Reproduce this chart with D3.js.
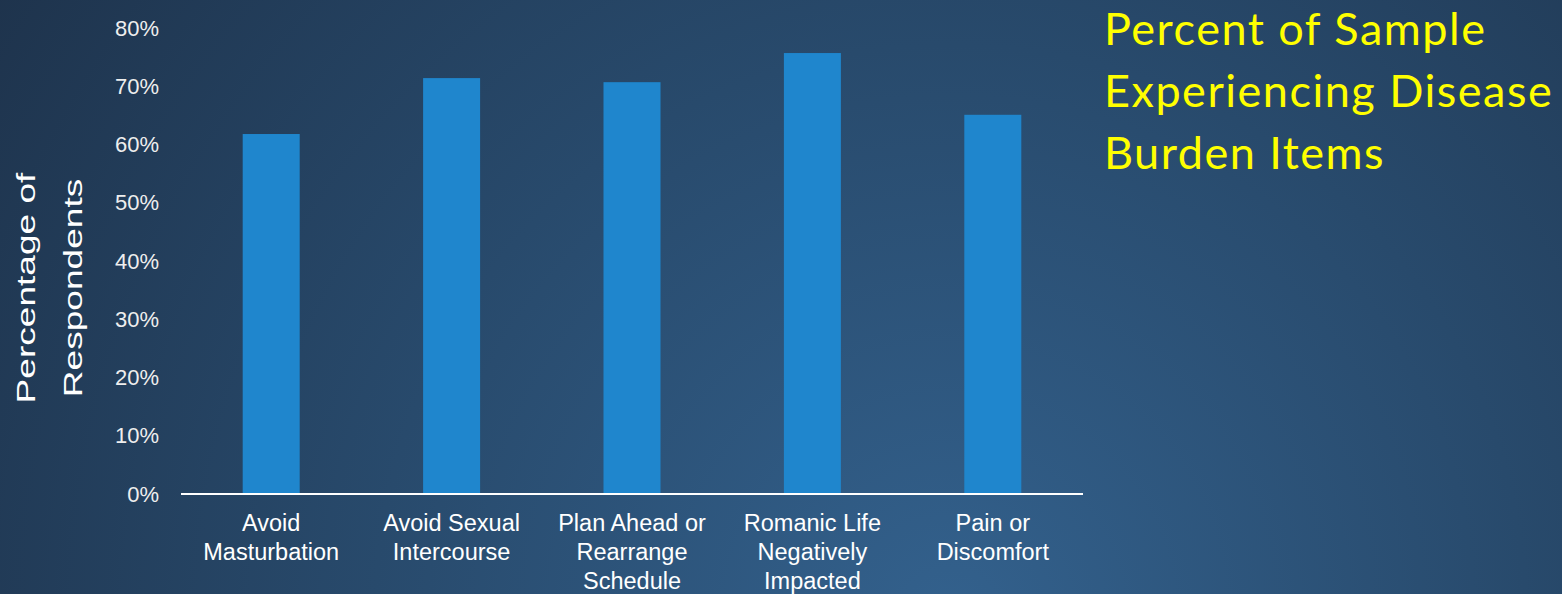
<!DOCTYPE html>
<html>
<head>
<meta charset="utf-8">
<script src="https://cdn.jsdelivr.net/npm/d3@7"></script>
<style>
  html, body { margin: 0; padding: 0; overflow: hidden; background: #1f3650; }
</style>
</head>
<body>
<div class="chart"></div>
<script>
const categories = [
  ["Avoid", "Masturbation"],
  ["Avoid Sexual", "Intercourse"],
  ["Plan Ahead or", "Rearrange", "Schedule"],
  ["Romanic Life", "Negatively", "Impacted"],
  ["Pain or", "Discomfort"]
];
const values = [61.8, 71.4, 70.7, 75.7, 65.1];
const yTicks = [0, 10, 20, 30, 40, 50, 60, 70, 80];
const titleLines = ["Percent of Sample", "Experiencing Disease", "Burden Items"];
const yTitleLines = ["Percentage of", "Respondents"];

const width = 1562;
const height = 594;
const marginLeft = 181;
const plotRight = 1083;
const marginTop = 28;
const baseY = 494;

const svg = d3.select(".chart").append("svg")
  .attr("width", width)
  .attr("height", height);

// background
const grad = svg.append("defs").append("radialGradient")
  .attr("id", "bg")
  .attr("gradientUnits", "userSpaceOnUse")
  .attr("cx", 950).attr("cy", 620).attr("r", 1150);
grad.append("stop").attr("offset", 0).attr("stop-color", "#33618d");
grad.append("stop").attr("offset", 0.5).attr("stop-color", "#284a6c");
grad.append("stop").attr("offset", 1).attr("stop-color", "#1e334c");
svg.append("rect").attr("width", width).attr("height", height).attr("fill", "url(#bg)");

const x = d3.scaleBand()
  .domain(d3.range(categories.length))
  .range([marginLeft, plotRight])
  .paddingInner(0.684)
  .paddingOuter(0.342);

const y = d3.scaleLinear()
  .domain([0, 80])
  .range([baseY, marginTop]);

svg.selectAll("rect.bar")
  .data(values)
  .join("rect")
  .attr("class", "bar")
  .attr("x", (d, i) => x(i))
  .attr("y", d => y(d))
  .attr("width", x.bandwidth())
  .attr("height", d => baseY - y(d))
  .attr("fill", "#1f86cd");

// y axis labels
const yAxis = svg.append("g")
  .attr("transform", `translate(159,0)`)
  .call(d3.axisLeft(y).tickValues(yTicks).tickFormat(d => d + "%").tickSize(0).tickPadding(0));
yAxis.select(".domain").remove();
yAxis.selectAll("text")
  .attr("fill", "#eeeeee")
  .style("font-family", "Liberation Sans, Arial, sans-serif")
  .style("font-size", "22px");

// x baseline
svg.append("line")
  .attr("x1", marginLeft).attr("x2", plotRight)
  .attr("y1", baseY).attr("y2", baseY)
  .attr("stroke", "#ffffff")
  .attr("stroke-width", 2);

// category labels
const catG = svg.append("g")
  .style("font-family", "Liberation Sans, Arial, sans-serif")
  .style("font-size", "23.5px")
  .attr("fill", "#ffffff")
  .attr("text-anchor", "middle");
categories.forEach((lines, i) => {
  const t = catG.append("text")
    .attr("x", x(i) + x.bandwidth() / 2)
    .attr("y", 531);
  lines.forEach((l, j) => {
    t.append("tspan")
      .attr("x", x(i) + x.bandwidth() / 2)
      .attr("dy", j === 0 ? 0 : 29)
      .text(l);
  });
});

// y axis title
yTitleLines.forEach((l, j) => {
  svg.append("text")
    .attr("transform", `translate(${35 + j * 47},${288}) rotate(-90) scale(1.4,1)`)
    .attr("text-anchor", "middle")
    .attr("fill", "#ffffff")
    .style("font-family", "Liberation Sans, Arial, sans-serif")
    .style("font-size", "26.5px")
    .text(l);
});

// title
const title = svg.append("text")
  .attr("fill", "#ffff00")
  .style("font-family", "Lato, sans-serif")
  .style("font-size", "45px")
  .style("letter-spacing", "1.5px");
titleLines.forEach((l, j) => {
  title.append("tspan")
    .attr("x", 1104)
    .attr("y", 45 + j * 62)
    .text(l);
});
</script>
</body>
</html>
